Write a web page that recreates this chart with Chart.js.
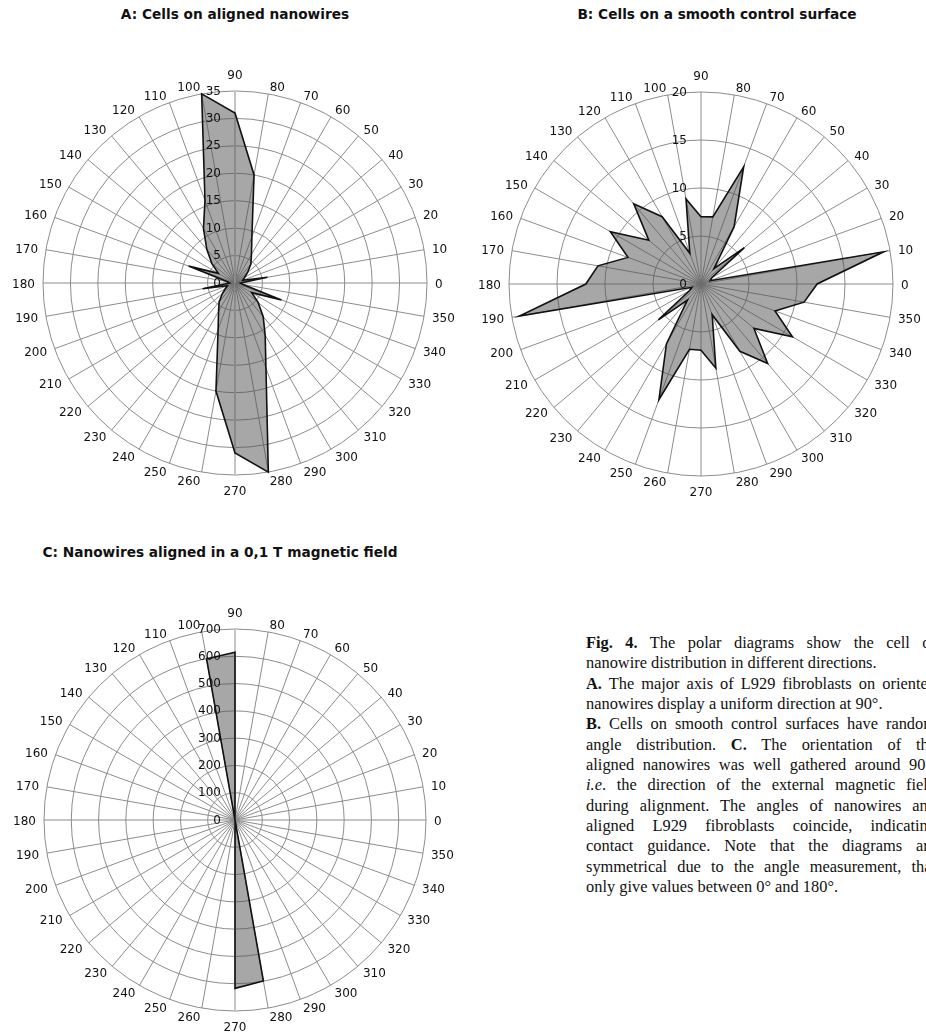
<!DOCTYPE html>
<html>
<head>
<meta charset="utf-8">
<script src="https://cdn.jsdelivr.net/npm/chart.js@4.4.1/dist/chart.umd.min.js"></script>
<style>
  html, body { margin: 0; padding: 0; background: #fff; }
  body { width: 926px; height: 1033px; position: relative; overflow: hidden; }
  canvas { position: absolute; }
  .title { position: absolute; font: bold 13.7px "DejaVu Sans", Verdana, sans-serif; color: #111; white-space: nowrap; }
  .cap { position: absolute; left: 586px; top: 633px; width: 350px;
         font-family: "Liberation Serif", "Times New Roman", serif; font-size: 16.4px; line-height: 20.35px; color: #111; }
  .cap div { white-space: nowrap; }
  .cap .j { white-space: normal; text-align: justify; text-align-last: justify; }
</style>
</head>
<body>

<div class="title" style="left:235px;top:6px;transform:translateX(-50%)">A: Cells on aligned nanowires</div>
<div class="title" style="left:717px;top:6px;transform:translateX(-50%)">B: Cells on a smooth control surface</div>
<div class="title" style="left:220px;top:544px;transform:translateX(-50%)">C: Nanowires aligned in a 0,1 T magnetic field</div>

<canvas id="chart-a" width="500" height="430" style="left:-15px;top:68px"></canvas>
<canvas id="chart-b" width="500" height="430" style="left:451px;top:69px"></canvas>
<canvas id="chart-c" width="500" height="430" style="left:-15px;top:606px"></canvas>

<div class="cap">
  <div class="j"><b>Fig. 4.</b> The polar diagrams show the cell or</div>
  <div>nanowire distribution in different directions.</div>
  <div class="j"><b>A.</b> The major axis of L929 fibroblasts on oriented</div>
  <div>nanowires display a uniform direction at 90°.</div>
  <div class="j"><b>B.</b> Cells on smooth control surfaces have random</div>
  <div class="j">angle distribution. <b>C.</b> The orientation of the</div>
  <div class="j">aligned nanowires was well gathered around 90°,</div>
  <div class="j"><i>i.e</i>. the direction of the external magnetic field</div>
  <div class="j">during alignment. The angles of nanowires and</div>
  <div class="j">aligned L929 fibroblasts coincide, indicating</div>
  <div class="j">contact guidance. Note that the diagrams are</div>
  <div class="j">symmetrical due to the angle measurement, that</div>
  <div>only give values between 0° and 180°.</div>
</div>

<script>
// ── angle categories, 0° .. 350° (counter-clockwise, 0° on the right) ──
const angles = ['0','10','20','30','40','50','60','70','80','90','100','110',
                '120','130','140','150','160','170','180','190','200','210','220','230',
                '240','250','260','270','280','290','300','310','320','330','340','350'];

// A: cells on aligned nanowires (same order as angles)
const cellsNanowires = [1, 6, 1.5, 2, 3, 4.5, 6, 9, 20, 31, 35, 16,
                        11.5, 8, 5.5, 3.5, 9, 1.5, 1, 6, 1.5, 2, 3, 4.5,
                        6, 9, 20, 31, 35, 16.5, 11, 8, 5.5, 3.5, 9, 1.5];

// B: cells on a smooth control surface
const cellsControl = [12.1, 19.3, 1, 1.3, 5.9, 2.1, 6.9, 13, 7.1, 7, 9, 3.4,
                      8.1, 10.9, 7.1, 10.9, 8.1, 10.9, 12, 19.2, 1, 1.4, 5.8, 2.2,
                      7.2, 12.8, 6.9, 6.9, 8.9, 3.4, 8.1, 10.8, 7.2, 11, 8.2, 10.9];

// C: nanowires aligned in a 0,1 T magnetic field
const wiresField = [0, 0, 0, 0, 0, 0, 0, 0, 0, 615, 600, 0,
                    0, 0, 0, 0, 0, 0, 0, 0, 0, 0, 0, 0,
                    0, 0, 0, 617, 599, 0, 0, 0, 0, 0, 0, 0];

// radial axis ranges
const axisA = { max: 35, step: 5 };
const axisB = { max: 20, step: 5 };
const axisC = { max: 700, step: 100 };

// Chart.js goes clockwise from the top, so start at 90° and walk down
const order = angles.map((_, k) => ((90 - 10 * k) % 360 + 360) % 360 / 10);
const labelsCw = order.map(i => angles[i]);
const reorder = arr => order.map(i => arr[i]);

const GRID = '#8c8c8c';
const LABEL_FONT = '12px "DejaVu Sans"';

// angle labels (Excel style: side labels centred on the spoke end) and
// value labels just left of the vertical axis, drawn over the fill
const polarLabels = {
  id: 'polarLabels',
  afterDatasetsDraw(chart) {
    const s = chart.scales.r;
    const ctx = chart.ctx;
    ctx.save();
    ctx.font = LABEL_FONT;
    ctx.fillStyle = '#111';
    ctx.textBaseline = 'middle';

    chart.data.labels.forEach((lab, i) => {
      const a = (i * 360 / chart.data.labels.length) % 360;
      const p = s.getPointPosition(i, s.drawingArea + 8);
      if (a === 0) {
        ctx.textAlign = 'center';
        ctx.fillText(lab, p.x, p.y - 7.5);
      } else if (a === 180) {
        ctx.textAlign = 'center';
        ctx.fillText(lab, p.x, p.y + 8.5);
      } else {
        ctx.textAlign = a < 180 ? 'left' : 'right';
        ctx.fillText(lab, p.x, p.y + 1.5);
      }
    });

    ctx.textAlign = 'right';
    s.ticks.forEach(t => {
      const d = s.getDistanceFromCenterForValue(t.value);
      ctx.fillText(t.label, s.xCenter - 14, s.yCenter - d + 0.5);
    });
    ctx.restore();
  }
};

function makeRadar(id, values, axis, lightVertical, bottomPad) {
  return new Chart(document.getElementById(id), {
    type: 'radar',
    data: {
      labels: labelsCw,
      datasets: [{
        data: reorder(values),
        backgroundColor: 'rgba(80,80,80,0.5)',
        borderColor: '#111',
        borderWidth: 1.6,
        pointRadius: 0,
        tension: 0,
        fill: true
      }]
    },
    options: {
      responsive: false,
      animation: false,
      devicePixelRatio: 1,
      layout: { padding: { left: 58, right: 58, top: 23, bottom: bottomPad } },
      plugins: { legend: { display: false }, tooltip: { enabled: false } },
      scales: {
        r: {
          min: 0,
          max: axis.max,
          ticks: { stepSize: axis.step, display: false },
          grid: { circular: true, color: GRID, lineWidth: 1 },
          angleLines: {
            color: c => (lightVertical && (c.index === 0 || c.index === 18)) ? '#c4c4c4' : GRID,
            lineWidth: c => (lightVertical && (c.index === 0 || c.index === 18)) ? 2 : 1
          },
          pointLabels: { display: false }
        }
      }
    },
    plugins: [polarLabels]
  });
}

makeRadar('chart-a', cellsNanowires, axisA, true, 23);
makeRadar('chart-b', cellsControl, axisB, false, 23);
makeRadar('chart-c', wiresField, axisC, true, 24);
</script>
</body>
</html>
